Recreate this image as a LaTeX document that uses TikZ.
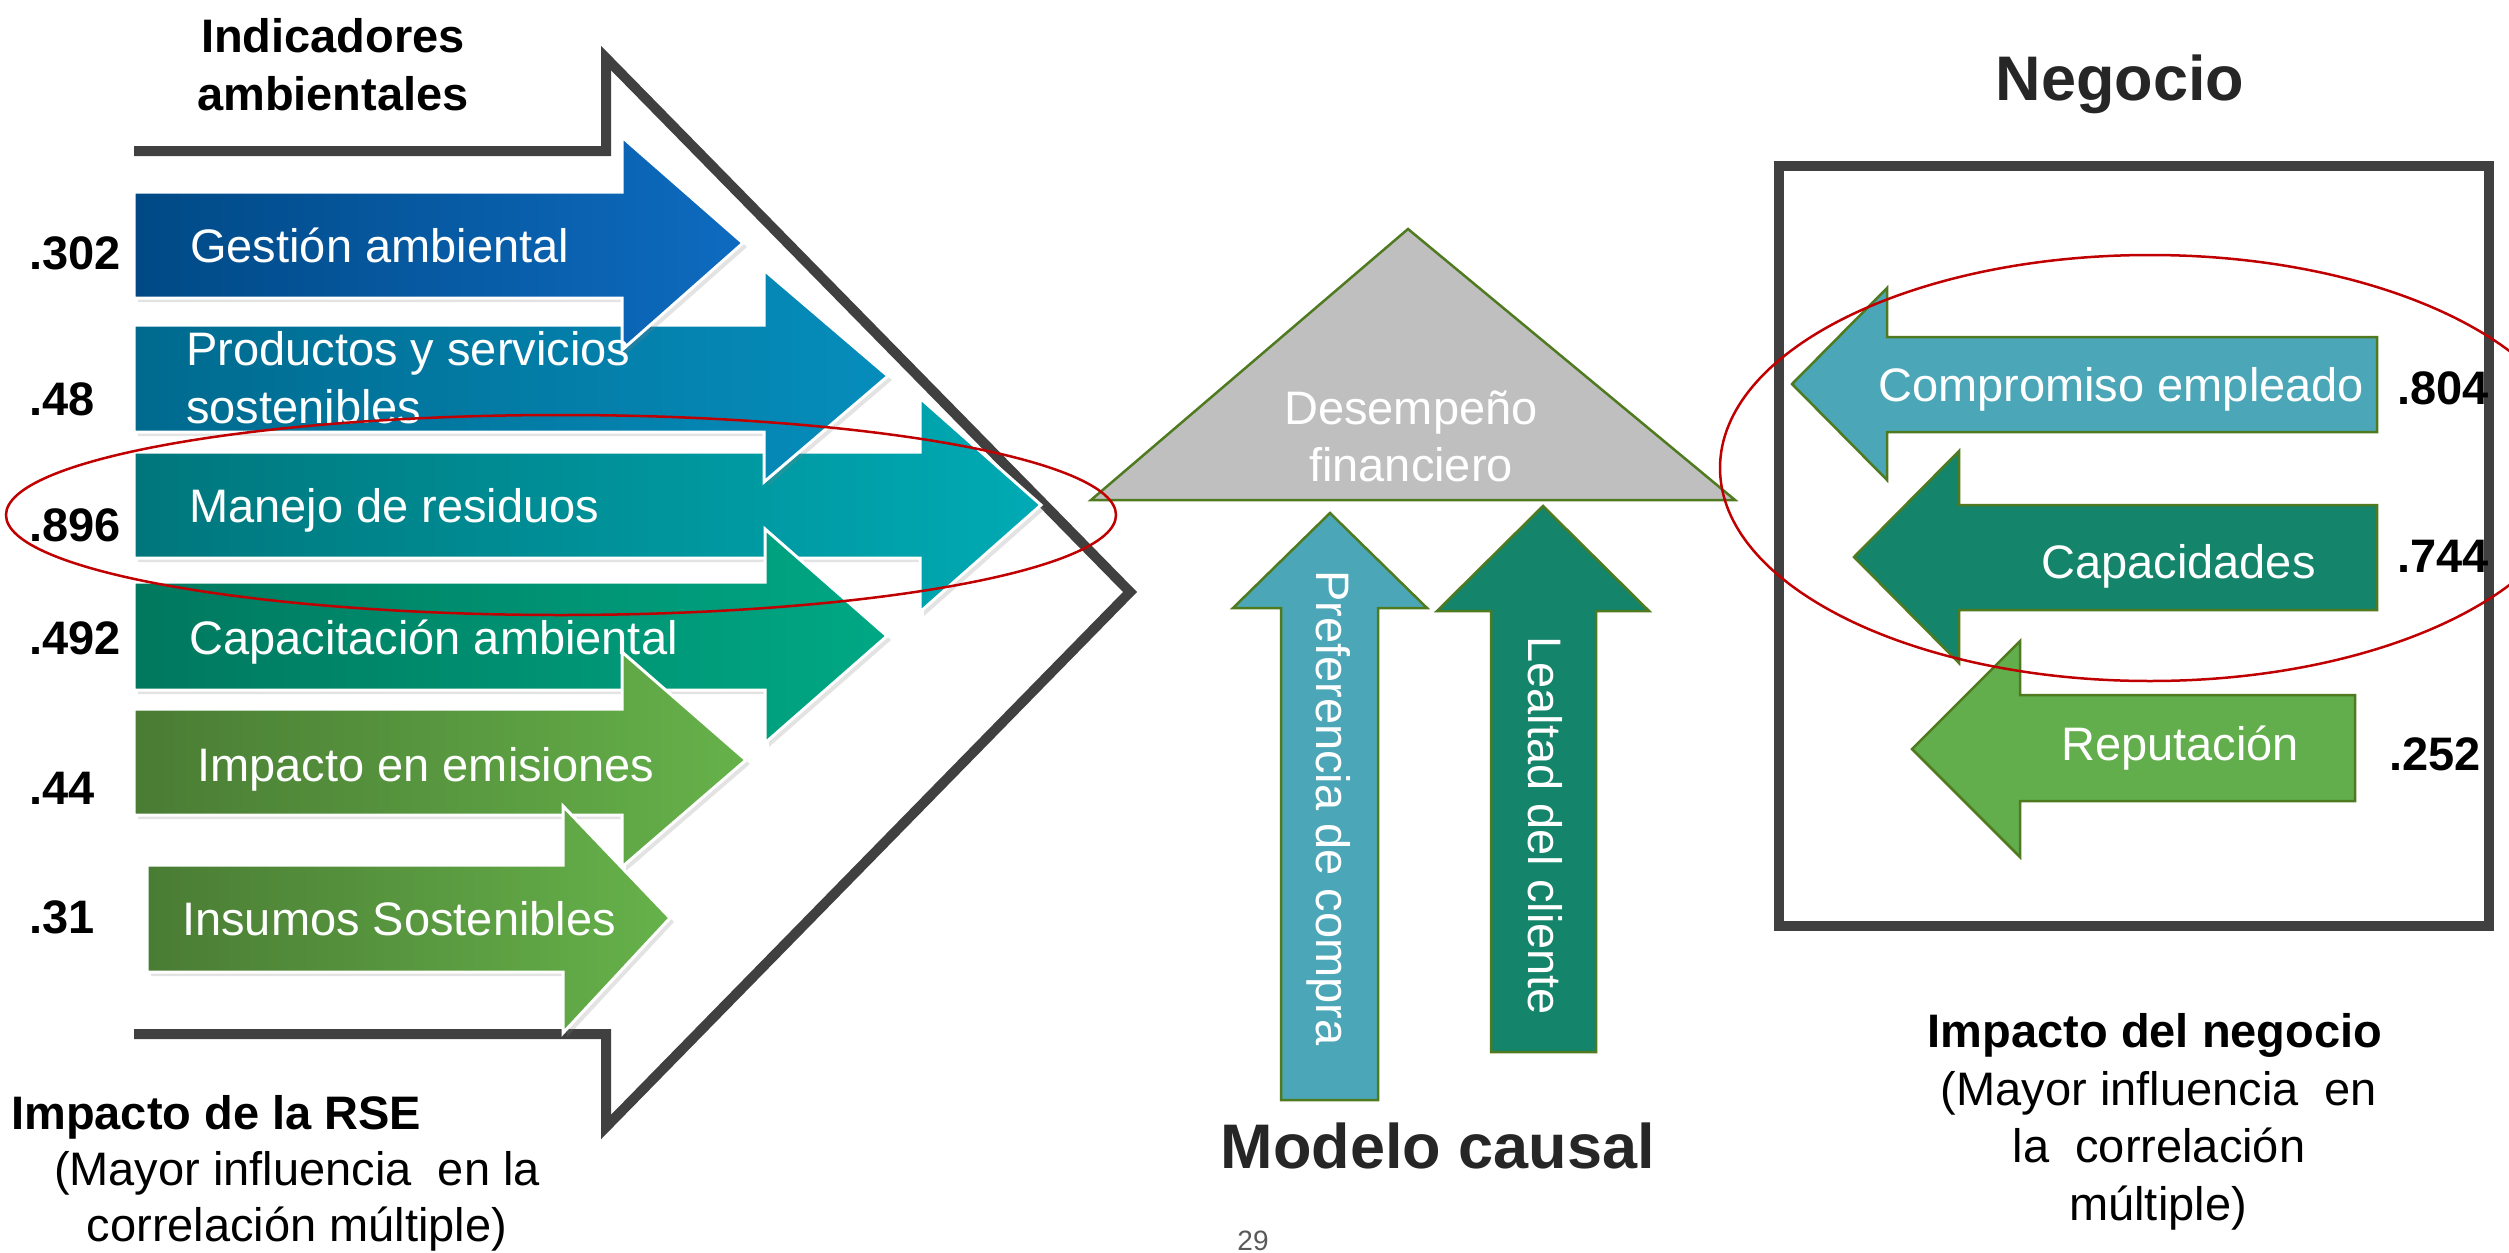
\documentclass[tikz,border=0pt]{standalone}
\usepackage{fontspec}
\setmainfont{Liberation Sans}
\usetikzlibrary{shadows}

\definecolor{framegray}{RGB}{64,64,64}
\definecolor{titlegray}{RGB}{38,38,38}
\definecolor{pagegray}{RGB}{89,89,89}
\definecolor{edgegreen}{RGB}{79,122,31}
\definecolor{ringred}{RGB}{192,0,0}
\definecolor{trigray}{RGB}{191,191,191}
\definecolor{blueA}{RGB}{0,73,133}
\definecolor{blueB}{RGB}{14,107,192}
\definecolor{cyanA}{RGB}{0,106,142}
\definecolor{cyanB}{RGB}{6,141,188}
\definecolor{tealA}{RGB}{0,118,124}
\definecolor{tealB}{RGB}{0,170,180}
\definecolor{jadeA}{RGB}{0,120,94}
\definecolor{jadeB}{RGB}{0,168,132}
\definecolor{leafA}{RGB}{74,124,52}
\definecolor{leafB}{RGB}{102,178,74}
\definecolor{prefcol}{RGB}{75,167,183}
\definecolor{lealcol}{RGB}{20,132,106}
\definecolor{repcol}{RGB}{98,174,76}

\newcommand{\lblfont}{\fontsize{47}{57}\selectfont}
\newcommand{\bigfont}{\bfseries\fontsize{63}{75}\selectfont}

\tikzset{
  indarrow/.style={draw=white, line width=3pt, line join=miter,
    drop shadow={opacity=0.22, shadow xshift=4pt, shadow yshift=-4pt}},
  flatarrow/.style={draw=edgegreen, line width=2.5pt, line join=miter},
  wtxt/.style={text=white, font=\lblfont, inner sep=0pt},
  ktxt/.style={text=black, font=\lblfont, inner sep=0pt},
  btxt/.style={text=black, font=\bfseries\lblfont, inner sep=0pt},
  ring/.style={draw=ringred, line width=2.5pt},
}

\begin{document}
\begin{tikzpicture}[x=1pt,y=1pt,yscale=-1,xscale=1]
\useasboundingbox (0,0) rectangle (2509,1253);

%Shape: Open chevron (indicadores)
\draw [framegray, line width=10pt, line join=miter] (134,151) -- (606,151) -- (606,58) -- (1130,592) -- (606,1127) -- (606,1034) -- (134,1034) ;

%Shape: Right Arrow - Manejo de residuos
\path [indarrow, left color=tealA, right color=tealB] (134,452) -- (920,452) -- (920,398) -- (1041,505) -- (920,612) -- (920,558) -- (134,558) -- cycle ;
%Shape: Right Arrow - Productos y servicios
\path [indarrow, left color=cyanA, right color=cyanB] (134,325) -- (764,325) -- (764,270) -- (888,376) -- (764,482) -- (764,432) -- (134,432) -- cycle ;
%Shape: Right Arrow - Gestion ambiental
\path [indarrow, left color=blueA, right color=blueB] (134,192) -- (622,192) -- (622,137) -- (743,243) -- (622,350) -- (622,298) -- (134,298) -- cycle ;
%Shape: Right Arrow - Capacitacion ambiental
\path [indarrow, left color=jadeA, right color=jadeB] (134,582) -- (765,582) -- (765,529) -- (887,636) -- (765,743) -- (765,690) -- (134,690) -- cycle ;
%Shape: Right Arrow - Impacto en emisiones
\path [indarrow, left color=leafA, right color=leafB] (134,709) -- (622,709) -- (622,652) -- (746,760) -- (622,867) -- (622,815) -- (134,815) -- cycle ;
%Shape: Right Arrow - Insumos sostenibles
\path [indarrow, left color=leafA, right color=leafB] (147,865) -- (563,865) -- (563,806) -- (670,918) -- (563,1033) -- (563,972) -- (147,972) -- cycle ;

%Shape: Triangle - desempeno
\draw [flatarrow, fill=trigray] (1408,229) -- (1735,500) -- (1091,500) -- cycle ;
%Shape: Up Arrow - preferencia
\draw [flatarrow, fill=prefcol] (1281,1100) -- (1281,608) -- (1233,608) -- (1330,513) -- (1427,608) -- (1378,608) -- (1378,1100) -- cycle ;
%Shape: Up Arrow - lealtad
\draw [flatarrow, fill=lealcol] (1491,1052) -- (1491,611) -- (1437,611) -- (1543,506) -- (1649,611) -- (1596,611) -- (1596,1052) -- cycle ;

%Shape: Rectangle - negocio
\draw [framegray, line width=10pt] (1779,166) rectangle (2489,926) ;
%Shape: Left Arrow - compromiso
\draw [flatarrow, fill=prefcol] (2377,337) -- (1887,337) -- (1887,288) -- (1792,384) -- (1887,480) -- (1887,432) -- (2377,432) -- cycle ;
%Shape: Left Arrow - capacidades
\draw [flatarrow, fill=lealcol] (2377,505) -- (1959,505) -- (1959,451) -- (1854,557) -- (1959,663) -- (1959,610) -- (2377,610) -- cycle ;
%Shape: Left Arrow - reputacion
\draw [flatarrow, fill=repcol] (2355,695) -- (2020,695) -- (2020,641) -- (1912,749) -- (2020,857) -- (2020,801) -- (2355,801) -- cycle ;

% Text Node
\draw (333,52) node [anchor=base][btxt] (ind1) {Indicadores};
% Text Node
\draw (333,110) node [anchor=base][btxt] (ind2) {ambientales};
% Text Node
\draw (190,262) node [anchor=base west][wtxt] (gestion) {Gestión ambiental};
% Text Node
\draw (186,365) node [anchor=base west][wtxt] (prod1) {Productos y servicios};
% Text Node
\draw (186,423) node [anchor=base west][wtxt] (prod2) {sostenibles};
% Text Node
\draw (189,522) node [anchor=base west][wtxt] (manejo) {Manejo de residuos};
% Text Node
\draw (189,654) node [anchor=base west][wtxt] (capac) {Capacitación ambiental};
% Text Node
\draw (197,781) node [anchor=base west][wtxt] (emis) {Impacto en emisiones};
% Text Node
\draw (182,935) node [anchor=base west][wtxt] (insumos) {Insumos Sostenibles};

% Text Node
\draw (29,269) node [anchor=base west][btxt] (v302) {.302};
% Text Node
\draw (29,415) node [anchor=base west][btxt] (v48) {.48};
% Text Node
\draw (29,541) node [anchor=base west][btxt] (v896) {.896};
% Text Node
\draw (29,654) node [anchor=base west][btxt] (v492) {.492};
% Text Node
\draw (29,804) node [anchor=base west][btxt] (v44) {.44};
% Text Node
\draw (29,933) node [anchor=base west][btxt] (v31) {.31};

% Text Node
\draw (11,1129) node [anchor=base west][btxt] (rse1) {Impacto de la RSE};
% Text Node
\draw (297,1185) node [anchor=base][ktxt] (rse2) {(Mayor influencia\ \ en la};
% Text Node
\draw (297,1241) node [anchor=base][ktxt] (rse3) {correlación múltiple)};

% Text Node
\draw (1411,424) node [anchor=base][wtxt] (des1) {Desempeño};
% Text Node
\draw (1411,481) node [anchor=base][wtxt] (des2) {financiero};
% Text Node
\draw (1316,570) node [anchor=base west, rotate=-90][wtxt] (pref) {Preferencia de compra};
% Text Node
\draw (1528,636) node [anchor=base west, rotate=-90][wtxt] (leal) {Lealtad del cliente};
% Text Node
\draw (1438,1168) node [anchor=base][inner sep=0pt, text=titlegray, font=\bigfont] (modelo) {Modelo causal};
% Text Node
\draw (1253,1250) node [anchor=base][inner sep=0pt, text=pagegray, font=\fontsize{28}{34}\selectfont] (pagenum) {29};

% Text Node
\draw (2120,100) node [anchor=base][inner sep=0pt, text=titlegray, font=\bigfont] (negocio) {Negocio};
% Text Node
\draw (1878,401) node [anchor=base west][wtxt] (compro) {Compromiso empleado};
% Text Node
\draw (2041,578) node [anchor=base west][wtxt] (capaci) {Capacidades};
% Text Node
\draw (2061,760) node [anchor=base west][wtxt] (reput) {Reputación};
% Text Node
\draw (2397,404) node [anchor=base west][btxt] (v804) {.804};
% Text Node
\draw (2397,572) node [anchor=base west][btxt] (v744) {.744};
% Text Node
\draw (2389,770) node [anchor=base west][btxt] (v252) {.252};
% Text Node
\draw (2155,1047) node [anchor=base][btxt] (neg1) {Impacto del negocio};
% Text Node
\draw (2159,1105) node [anchor=base][ktxt] (neg2) {(Mayor influencia\ \ en};
% Text Node
\draw (2159,1162) node [anchor=base][ktxt] (neg3) {la\ \ correlación};
% Text Node
\draw (2158,1220) node [anchor=base][ktxt] (neg4) {múltiple)};

%Shape: Ellipse - residuos
\draw [ring] (561,515) ellipse [x radius=555, y radius=100] ;
%Shape: Ellipse - compromiso y capacidades
\draw [ring] (2150,468) ellipse [x radius=430, y radius=213] ;

\end{tikzpicture}
\end{document}
